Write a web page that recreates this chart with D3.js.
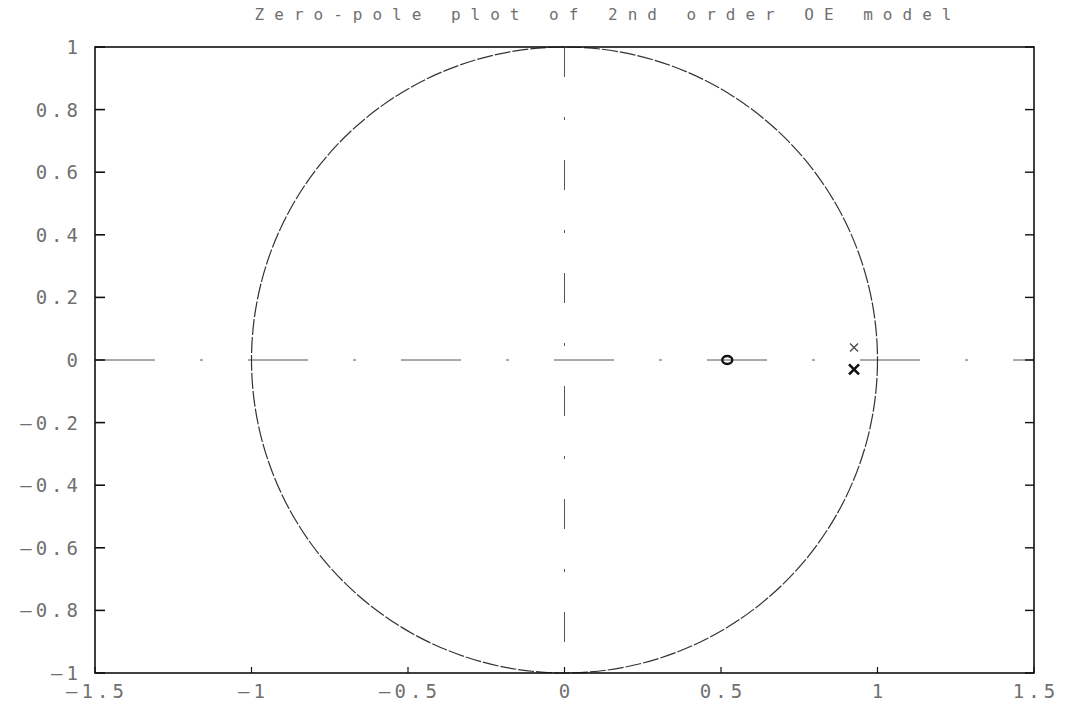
<!DOCTYPE html>
<html lang="en">
  <head>
    <meta charset="UTF-8" />
    <title>Zero-pole plot</title>
  </head>
  <style>
    body {
      margin: 0;
      background: #fff;
    }
    text {
      font-family: 'DejaVu Sans Mono', 'Liberation Mono', monospace;
      fill: #707070;
    }
  </style>
  <body>
    <svg id="svg" width="1069" height="708"></svg>

    <script src="https://d3js.org/d3.v7.min.js"></script>
    <script>
      // values
      const title = 'Zero-pole plot of 2nd order OE model';
      const xTicks = [-1.5, -1, -0.5, 0, 0.5, 1, 1.5];
      const yTicks = [1, 0.8, 0.6, 0.4, 0.2, 0, -0.2, -0.4, -0.6, -0.8, -1];
      const zerosRe = [0.52];
      const zerosIm = [0.0];
      const polesRe = [0.925, 0.925];
      const polesIm = [0.04, -0.03];
      const poleBold = [false, true];

      const svg = d3.select('#svg');
      const plotL = 95, plotR = 1034, plotT = 47, plotB = 673;

      const x = d3.scaleLinear().domain([-1.5, 1.5]).range([plotL, plotR]);
      const y = d3.scaleLinear().domain([-1, 1]).range([plotB, plotT]);

      const fmt = (v) => (v < 0 ? '\u2013' : '') + String(Math.abs(v));

      // dash-dot axes through origin
      svg.append('line')
        .attr('x1', x(-1.5)).attr('x2', x(1.5))
        .attr('y1', y(0)).attr('y2', y(0))
        .attr('stroke', '#555').attr('stroke-width', 1)
        .attr('stroke-dasharray', '60,45,3,45');
      svg.append('line')
        .attr('x1', x(0)).attr('x2', x(0))
        .attr('y1', y(1)).attr('y2', y(-1))
        .attr('stroke', '#555').attr('stroke-width', 1)
        .attr('stroke-dasharray', '30,40,3,40');

      // unit circle
      svg.append('circle')
        .attr('cx', x(0)).attr('cy', y(0))
        .attr('r', x(1) - x(0))
        .attr('fill', 'none')
        .attr('stroke', '#333')
        .attr('stroke-width', 1.2)
        .attr('stroke-dasharray', '16,2');

      // frame
      svg.append('rect')
        .attr('x', plotL).attr('y', plotT)
        .attr('width', plotR - plotL).attr('height', plotB - plotT)
        .attr('fill', 'none').attr('stroke', '#111').attr('stroke-width', 1.6);

      // ticks, inward
      svg.append('g').selectAll('line')
        .data(yTicks).enter().append('line')
        .attr('x1', plotL).attr('x2', plotL + 10)
        .attr('y1', (d) => y(d)).attr('y2', (d) => y(d))
        .attr('stroke', '#111').attr('stroke-width', 1.6);
      svg.append('g').selectAll('line')
        .data(yTicks).enter().append('line')
        .attr('x1', plotR).attr('x2', plotR - 9)
        .attr('y1', (d) => y(d)).attr('y2', (d) => y(d))
        .attr('stroke', '#111').attr('stroke-width', 1.4);
      svg.append('g').selectAll('line')
        .data(xTicks).enter().append('line')
        .attr('x1', (d) => x(d)).attr('x2', (d) => x(d))
        .attr('y1', plotB).attr('y2', plotB - 6)
        .attr('stroke', '#111').attr('stroke-width', 1.2);

      // tick labels
      svg.append('g').selectAll('text')
        .data(yTicks).enter().append('text')
        .attr('x', plotL - 13)
        .attr('y', (d) => y(d) + 7)
        .attr('text-anchor', 'end')
        .attr('font-size', 19)
        .attr('letter-spacing', 4)
        .text(fmt);
      svg.append('g').selectAll('text')
        .data(xTicks).enter().append('text')
        .attr('x', (d) => x(d) + 2)
        .attr('y', 698)
        .attr('text-anchor', 'middle')
        .attr('font-size', 19)
        .attr('letter-spacing', 4)
        .text(fmt);

      // title
      svg.append('text')
        .attr('x', 608).attr('y', 20)
        .attr('text-anchor', 'middle')
        .attr('font-size', 16)
        .attr('letter-spacing', 10)
        .text(title);

      // zeros
      svg.append('g').selectAll('ellipse')
        .data(zerosRe).enter().append('ellipse')
        .attr('cx', (d) => x(d))
        .attr('cy', (d, i) => y(zerosIm[i]))
        .attr('rx', 5).attr('ry', 4)
        .attr('fill', 'none').attr('stroke', '#111').attr('stroke-width', 2.4);

      // poles
      svg.append('g').selectAll('path')
        .data(polesRe).enter().append('path')
        .attr('d', (d, i) => {
          const cx = x(d), cy = y(polesIm[i]);
          const s = poleBold[i] ? 5 : 4;
          return `M${cx - s},${cy - s}L${cx + s},${cy + s}M${cx - s},${cy + s}L${cx + s},${cy - s}`;
        })
        .attr('stroke', (d, i) => (poleBold[i] ? '#111' : '#444'))
        .attr('stroke-width', (d, i) => (poleBold[i] ? 2.6 : 1.2))
        .attr('fill', 'none');
    </script>
  </body>
</html>
